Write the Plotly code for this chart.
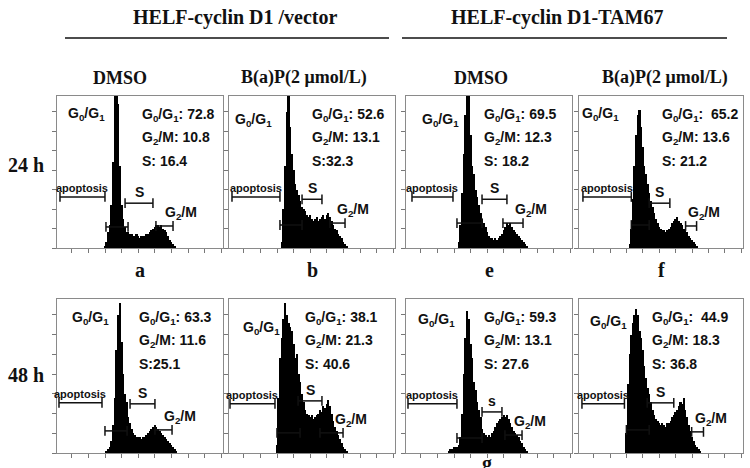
import plotly.graph_objects as go

# ---------------- data ----------------
# order of panels: 24 h row (a, b, e, f), then 48 h row (a, b, e, f)
PANEL_LETTERS = ["a", "b", "e", "f"]
GROUPS = ["HELF-cyclin D1 /vector", "HELF-cyclin D1-TAM67"]
TREATMENTS = ["DMSO", "B(a)P(2 \u03bcmol/L)", "DMSO", "B(a)P(2 \u03bcmol/L)"]
TIMES = ["24 h", "48 h"]

# DNA content histograms, one bin per channel, first channel in HIST_START
HIST_START = [29, 32, 32, 31, 30, 29, 26, 29]
HIST_A24 = [1, 3, 8, 12, 22, 44, 80, 92, 74, 42, 22, 15, 11, 8, 8, 7, 7, 6, 6, 7,
            6, 5, 6, 6, 6, 7, 7, 8, 9, 10, 11, 12, 12, 11, 12, 10, 9, 8, 6, 4, 3, 2, 1]
HIST_B24 = [3, 20, 42, 70, 90, 62, 48, 40, 33, 30, 27, 24, 21, 20, 19, 17, 16, 17, 15, 14,
            15, 16, 14, 15, 16, 17, 15, 17, 18, 16, 14, 12, 10, 9, 7, 6, 5, 3, 2, 1]
HIST_E24 = [3, 12, 28, 48, 68, 90, 80, 58, 42, 38, 30, 26, 22, 18, 15, 13, 11, 8, 6, 5,
            5, 4, 5, 4, 5, 6, 7, 9, 11, 13, 12, 13, 11, 9, 8, 7, 6, 5, 4, 3, 2, 1]
HIST_F24 = [2, 10, 25, 42, 58, 68, 71, 62, 52, 42, 38, 33, 28, 24, 21, 18, 15, 13, 11, 10,
            9, 9, 8, 9, 10, 11, 13, 14, 15, 16, 14, 13, 12, 10, 9, 8, 6, 5, 4, 3, 2, 1]
HIST_A48 = [1, 2, 3, 6, 14, 28, 52, 70, 76, 56, 40, 30, 26, 18, 15, 12, 10, 9, 8, 8,
            8, 7, 8, 8, 9, 10, 11, 12, 13, 14, 13, 12, 11, 10, 9, 8, 7, 6, 5, 4, 3, 2, 1]
HIST_B48 = [4, 28, 48, 58, 68, 76, 70, 66, 64, 62, 55, 48, 50, 40, 36, 30, 26, 22, 20, 19,
            18, 19, 17, 18, 19, 20, 22, 21, 24, 23, 25, 27, 24, 20, 16, 13, 11, 9, 7, 5,
            3, 2, 1]
HIST_E48 = [1, 2, 2, 3, 3, 3, 4, 8, 20, 40, 58, 72, 68, 55, 48, 36, 32, 26, 22, 18,
            12, 10, 9, 8, 9, 8, 10, 11, 13, 15, 16, 17, 18, 19, 18, 19, 17, 15, 13, 11,
            10, 9, 8, 6, 5, 3, 2, 1]
HIST_F48 = [10, 35, 50, 60, 66, 70, 73, 70, 62, 58, 52, 44, 38, 33, 30, 26, 22, 19, 17, 16,
            15, 14, 15, 14, 13, 15, 15, 16, 18, 19, 21, 22, 24, 26, 25, 28, 22, 18, 14, 11,
            8, 6, 4, 3, 2, 1]
HISTS = [HIST_A24, HIST_B24, HIST_E24, HIST_F24, HIST_A48, HIST_B48, HIST_E48, HIST_F48]

# cell cycle percentages printed in each panel
G1_PCT = ["72.8", "52.6", "69.5", "65.2", "63.3", "38.1", "59.3", "44.9"]
G2M_PCT = ["10.8", "13.1", "12.3", "13.6", "11.6", "21.3", "13.1", "18.3"]
S_PCT = ["16.4", "32.3", "18.2", "21.2", "25.1", "40.6", "27.6", "36.8"]

# gate ranges in channels
GATE_APOP = [(1.8, 28.9), (1.8, 30.7), (3.6, 28.3), (2.4, 31.9),
             (1.2, 27.1), (0.6, 27.7), (1.2, 30.7), (1.8, 27.7)]
GATE_G1 = [(29.5, 42.8), (30.7, 44.0), (30.7, 45.8), (31.9, 42.8),
           (28.9, 42.2), (28.9, 42.8), (30.7, 45.8), (28.9, 42.8)]
GATE_S = [(41.0, 57.8), (44.0, 56.0), (45.8, 60.8), (42.8, 55.4),
          (44.0, 59.0), (41.6, 56.0), (45.8, 57.8), (41.6, 57.8)]
GATE_G2 = [(59.6, 69.9), (60.8, 69.9), (58.4, 70.5), (65.0, 71.7),
           (59.0, 69.3), (54.8, 68.7), (59.6, 69.9), (68.7, 75.9)]

# ---------------- layout helpers ----------------
W, H = 750, 468
COLS = [(57, 223), (229, 395), (406, 572), (579, 743)]
ROWS = [(96, 248), (299, 453)]
# height at which each gate bar is drawn
LVL_APOP = [26.2, 26.2, 26.2, 26.2, 25.4, 24.9, 24.9, 24.9]
LVL_G1 = [10.8, 11.8, 12.8, 11.8, 11.2, 10.2, 7.6, 11.7]
LVL_S = [23.0, 25.0, 25.0, 23.0, 24.9, 26.4, 20.8, 25.4]
LVL_G2 = [11.3, 12.8, 12.8, 11.3, 11.7, 10.2, 9.1, 10.7]
# pixel offsets (from panel left/top) of the G0/G1 peak label and the stats block
PEAK_LBL = [(29, 18), (24, 24), (34, 24), (21, 18), (33, 19), (32, 29), (30, 21), (29, 23)]
STATS_X = [83, 81, 76, 81, 80, 74, 76, 71]

SERIF = "Liberation Serif, Times New Roman, serif"
SANS = "Liberation Sans, Arial, sans-serif"
INK = "#111111"

fig = go.Figure()
annotations = []
shapes = []


def px(x):
    return x / W


def py(y):
    return 1 - y / H


def label(x, y, text, font, size, xanchor="center", yanchor="middle"):
    return dict(x=px(x), y=py(y), xref="paper", yref="paper", text=text,
                showarrow=False, xanchor=xanchor, yanchor=yanchor,
                font=dict(family=font, size=size, color=INK))


for i, counts in enumerate(HISTS):
    r, c = divmod(i, 4)
    left, right = COLS[c]
    top, bottom = ROWS[r]
    n = "" if i == 0 else str(i + 1)
    xa, ya = "x" + n, "y" + n

    fig.add_trace(go.Bar(
        x=[HIST_START[i] + k for k in range(len(counts))], y=counts, width=1,
        marker=dict(color="black", line=dict(width=0)),
        xaxis=xa, yaxis=ya, hoverinfo="skip"))

    for (g0, g1), lvl in zip([GATE_APOP[i], GATE_G1[i], GATE_S[i], GATE_G2[i]],
                             [LVL_APOP[i], LVL_G1[i], LVL_S[i], LVL_G2[i]]):
        fig.add_trace(go.Scatter(
            x=[g0, g1], y=[lvl, lvl], mode="lines+markers",
            line=dict(color=INK, width=1.5),
            marker=dict(symbol="line-ns-open", size=7, line=dict(width=1.5, color=INK)),
            xaxis=xa, yaxis=ya, cliponaxis=False, hoverinfo="skip"))

    fig.layout["xaxis" + n] = dict(
        domain=[px(left), px(right)], range=[0, 100], anchor=ya,
        tick0=9, dtick=10, ticks="outside", ticklen=4, tickcolor="#777",
        showline=True, linecolor="#8a8a8a", linewidth=1, mirror=True,
        showgrid=False, zeroline=False, showticklabels=False, fixedrange=True)
    fig.layout["yaxis" + n] = dict(
        domain=[py(bottom), py(top)], range=[0, 78], anchor=xa,
        tick0=0, dtick=10, ticks="outside", ticklen=4, tickcolor="#777",
        showline=True, linecolor="#8a8a8a", linewidth=1, mirror=True,
        showgrid=False, zeroline=False, showticklabels=False, fixedrange=True)

    # gate labels
    a0, a1 = GATE_APOP[i]
    annotations.append(dict(x=(a0 + a1) / 2, y=LVL_APOP[i], xref=xa, yref=ya,
                            text="<b>apoptosis</b>", showarrow=False,
                            xanchor="center", yanchor="bottom", yshift=1,
                            font=dict(family=SANS, size=11, color=INK)))
    s0, s1 = GATE_S[i]
    annotations.append(dict(x=(s0 + s1) / 2, y=LVL_S[i], xref=xa, yref=ya,
                            text="<b>s</b>" if i == 6 else "<b>S</b>", showarrow=False,
                            xanchor="center", yanchor="bottom", yshift=1,
                            font=dict(family=SANS, size=14, color=INK)))
    annotations.append(dict(x=GATE_G2[i][1] + 4.5, y=LVL_G2[i], xref=xa, yref=ya,
                            text="<b>G<sub>2</sub>/M</b>", showarrow=False,
                            xanchor="center", yanchor="bottom", yshift=2,
                            font=dict(family=SANS, size=14, color=INK)))
    # G0/G1 peak label
    ox, oy = PEAK_LBL[i]
    annotations.append(label(left + ox, top + oy, "<b>G<sub>0</sub>/G<sub>1</sub></b>",
                             SANS, 14))
    # percentages
    gap = "\u00a0\u00a0" if c == 3 else " "
    sgap = "" if i in (1, 4) else " "
    lines = ["G<sub>0</sub>/G<sub>1</sub>:" + gap + G1_PCT[i],
             "G<sub>2</sub>/M: " + G2M_PCT[i],
             "S:" + sgap + S_PCT[i]]
    for k, t in enumerate(lines):
        annotations.append(label(left + STATS_X[i], top + 19 + 23 * k, "<b>" + t + "</b>",
                                 SANS, 14, xanchor="left"))

# group headers with rules underneath
for g, (cx, x0, x1) in zip(GROUPS, [(235, 65, 389), (557, 402, 727)]):
    annotations.append(label(cx, 18, "<b>" + g + "</b>", SERIF, 20))
    shapes.append(dict(type="line", xref="paper", yref="paper",
                       x0=px(x0), x1=px(x1), y0=py(38), y1=py(38),
                       line=dict(color=INK, width=1.5)))

for t, cx in zip(TREATMENTS, [120, 304, 481, 665]):
    annotations.append(label(cx, 78, "<b>" + t + "</b>", SERIF, 18))

for t, cy in zip(TIMES, [165, 375]):
    annotations.append(label(26, cy, "<b>" + t + "</b>", SERIF, 20))

for letter, (l, r) in zip(PANEL_LETTERS, COLS):
    annotations.append(label((l + r) / 2, 270, "<b>" + letter + "</b>", SERIF, 20))
# letter of the next row, cut off at the bottom edge
annotations.append(label(487, 450, "<b>g</b>", SERIF, 20, yanchor="top"))

fig.update_layout(
    width=W, height=H, margin=dict(l=0, r=0, t=0, b=0),
    paper_bgcolor="white", plot_bgcolor="white",
    showlegend=False, bargap=0,
    annotations=annotations, shapes=shapes)

# drop the browser's default page margin so the figure sits at the window corner
fig.write_html("out.html", config={"displayModeBar": False},
               post_script="document.body.style.margin = '0px';")
